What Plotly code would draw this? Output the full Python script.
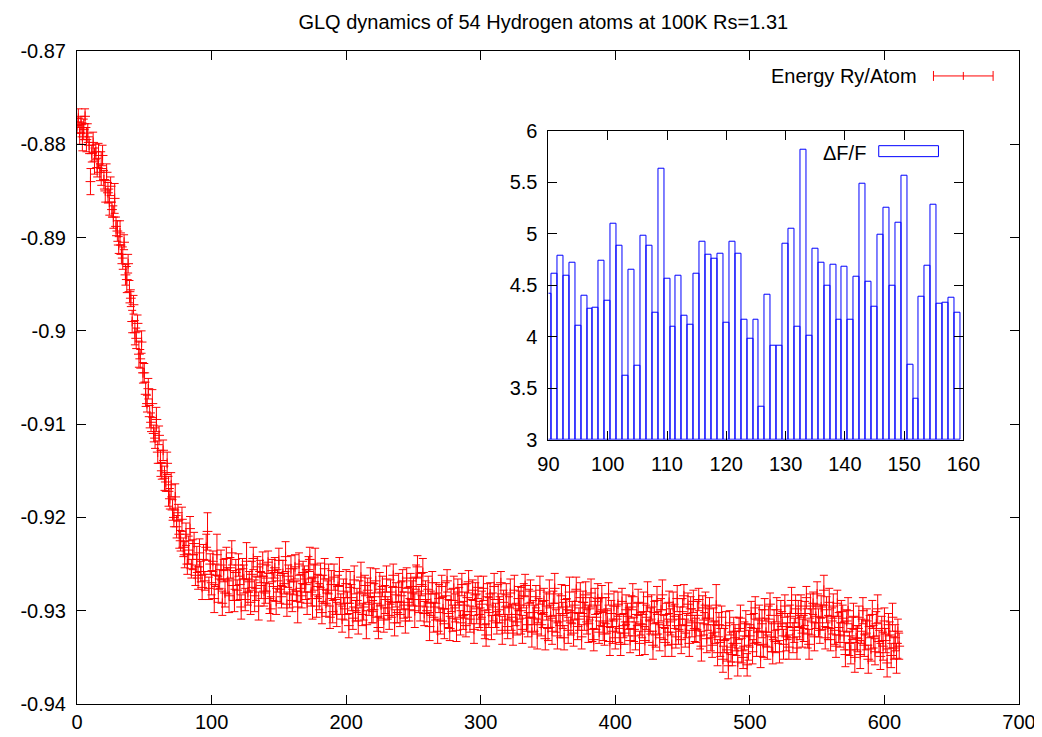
import plotly.graph_objects as go

title_text = "GLQ dynamics of 54 Hydrogen atoms at 100K Rs=1.31"
series_name = "Energy Ry/Atom"
inset_name = "\u0394F/F"

# Energy per atom, in units of 1e-4 Ry, one per MD step
energy_1e4 = [
    -8780, -8772, -8788, -8779, -8792, -8784, -8770, -8795, -8788, -8801,
    -8840, -8810, -8798, -8818, -8808, -8825, -8812, -8830, -8826, -8812,
    -8838, -8850, -8830, -8852, -8862, -8845, -8870, -8878, -8858, -8888,
    -8893, -8908, -8895, -8918, -8922, -8905, -8940, -8945, -8928, -8958,
    -8965, -8990, -8972, -9002, -9008, -8992, -9025, -9030, -9012, -9045,
    -9045, -9068, -9078, -9062, -9092, -9098, -9078, -9110, -9115, -9095,
    -9130, -9112, -9142, -9150, -9128, -9158, -9162, -9142, -9172, -9180,
    -9165, -9192, -9200, -9178, -9210, -9195, -9218, -9225, -9202, -9232,
    -9240, -9218, -9250, -9235, -9212, -9255, -9240, -9228, -9262, -9245,
    -9265, -9238, -9258, -9275, -9245, -9268, -9232, -9215, -9276, -9250,
    -9270, -9247, -9287, -9262, -9240, -9277, -9266, -9251, -9292, -9257,
    -9281, -9244, -9268, -9284, -9254, -9238, -9273, -9289, -9259, -9278,
    -9251, -9272, -9296, -9255, -9266, -9288, -9247, -9280, -9269, -9291,
    -9261, -9244, -9284, -9276, -9253, -9295, -9258, -9273, -9250, -9279,
    -9281, -9265, -9248, -9287, -9298, -9257, -9274, -9254, -9290, -9268,
    -9246, -9277, -9285, -9260, -9271, -9242, -9293, -9263, -9282, -9255,
    -9289, -9269, -9253, -9279, -9296, -9250, -9276, -9284, -9259, -9266,
    -9272, -9292, -9256, -9245, -9280, -9287, -9264, -9251, -9295, -9274,
    -9285, -9262, -9302, -9277, -9255, -9292, -9281, -9266, -9307, -9272,
    -9301, -9264, -9288, -9304, -9274, -9258, -9293, -9309, -9279, -9298,
    -9271, -9292, -9316, -9275, -9286, -9308, -9267, -9300, -9289, -9311,
    -9281, -9264, -9304, -9296, -9273, -9315, -9278, -9293, -9270, -9299,
    -9301, -9285, -9268, -9307, -9318, -9277, -9294, -9274, -9310, -9288,
    -9266, -9297, -9305, -9280, -9291, -9262, -9313, -9283, -9302, -9275,
    -9304, -9284, -9268, -9294, -9311, -9265, -9291, -9299, -9274, -9281,
    -9280, -9300, -9264, -9253, -9288, -9295, -9272, -9259, -9303, -9282,
    -9300, -9277, -9317, -9292, -9270, -9307, -9296, -9281, -9322, -9287,
    -9311, -9274, -9298, -9314, -9284, -9268, -9303, -9319, -9289, -9308,
    -9276, -9297, -9321, -9280, -9291, -9313, -9272, -9305, -9294, -9316,
    -9286, -9269, -9309, -9301, -9278, -9320, -9283, -9298, -9275, -9304,
    -9309, -9293, -9276, -9315, -9326, -9285, -9302, -9282, -9318, -9296,
    -9274, -9305, -9313, -9288, -9299, -9270, -9321, -9291, -9310, -9283,
    -9317, -9297, -9281, -9307, -9324, -9278, -9304, -9312, -9287, -9294,
    -9300, -9320, -9284, -9273, -9308, -9315, -9292, -9279, -9323, -9302,
    -9308, -9285, -9325, -9300, -9278, -9315, -9304, -9289, -9330, -9295,
    -9319, -9282, -9306, -9322, -9292, -9276, -9311, -9327, -9297, -9316,
    -9284, -9305, -9329, -9288, -9299, -9321, -9280, -9313, -9302, -9324,
    -9294, -9277, -9317, -9309, -9286, -9328, -9291, -9306, -9283, -9312,
    -9314, -9298, -9281, -9320, -9331, -9290, -9307, -9287, -9323, -9301,
    -9286, -9317, -9325, -9300, -9311, -9282, -9333, -9303, -9322, -9295,
    -9329, -9309, -9293, -9319, -9336, -9290, -9316, -9324, -9299, -9306,
    -9312, -9332, -9296, -9285, -9320, -9327, -9304, -9291, -9335, -9314,
    -9315, -9292, -9332, -9307, -9285, -9322, -9311, -9296, -9337, -9302,
    -9326, -9289, -9313, -9329, -9299, -9283, -9318, -9334, -9304, -9323,
    -9291, -9312, -9336, -9295, -9306, -9328, -9287, -9320, -9309, -9331,
    -9301, -9284, -9324, -9316, -9293, -9335, -9298, -9313, -9290, -9319,
    -9321, -9305, -9288, -9327, -9338, -9297, -9314, -9294, -9330, -9308,
    -9298, -9329, -9337, -9312, -9323, -9294, -9345, -9315, -9334, -9307,
    -9352, -9332, -9316, -9342, -9359, -9313, -9339, -9347, -9322, -9329,
    -9335, -9355, -9319, -9308, -9343, -9350, -9327, -9314, -9358, -9337,
    -9327, -9304, -9344, -9319, -9297, -9334, -9323, -9308, -9349, -9314,
    -9336, -9299, -9323, -9339, -9309, -9293, -9328, -9344, -9314, -9333,
    -9299, -9320, -9344, -9303, -9314, -9336, -9295, -9328, -9317, -9339,
    -9306, -9289, -9329, -9321, -9298, -9340, -9303, -9318, -9295, -9324,
    -9319, -9303, -9286, -9325, -9336, -9295, -9312, -9292, -9328, -9306,
    -9282, -9313, -9321, -9296, -9307, -9278, -9329, -9299, -9318, -9291,
    -9331, -9311, -9295, -9321, -9338, -9292, -9318, -9326, -9301, -9308,
    -9327, -9347, -9311, -9300, -9335, -9342, -9319, -9306, -9350, -9329,
    -9330, -9307, -9347, -9322, -9300, -9337, -9326, -9311, -9352, -9317,
    -9341, -9304, -9328, -9344, -9314, -9298, -9333, -9349, -9319, -9338,
    -9311, -9332, -9356, -9315, -9326, -9348, -9307, -9340, -9329, -9351, -9322, -9338,
]

# Error bar half-lengths, in units of 1e-4 Ry
error_1e4 = [
    8, 10, 12, 9, 15, 11, 8, 13, 10, 9,
    14, 9, 11, 14, 8, 10, 13, 9, 18, 11,
    10, 12, 9, 11, 14, 10, 8, 12, 16, 10,
    11, 9, 13, 10, 12, 8, 11, 14, 10, 12,
    9, 12, 10, 13, 11, 9, 14, 10, 12, 11,
    10, 13, 9, 11, 12, 10, 15, 9, 11, 13,
    12, 10, 14, 9, 11, 13, 10, 12, 16, 11,
    13, 11, 10, 14, 12, 9, 15, 11, 13, 10,
    14, 12, 11, 15, 13, 10, 16, 12, 11, 14,
    12, 15, 11, 13, 16, 10, 14, 20, 12, 11,
    13, 11, 15, 12, 22, 14, 10, 16, 13, 12,
    15, 12, 14, 18, 11, 13, 16, 12, 14, 11,
    12, 16, 13, 11, 15, 12, 20, 14, 11, 13,
    14, 12, 17, 13, 11, 15, 12, 14, 13, 16,
    11, 14, 12, 16, 13, 12, 15, 11, 14, 12,
    13, 15, 12, 14, 11, 16, 13, 12, 15, 14,
    12, 14, 13, 11, 17, 12, 15, 13, 12, 14,
    16, 12, 14, 13, 15, 22, 14, 18, 12, 13,
    14, 13, 12, 15, 11, 14, 13, 16, 12, 15,
    12, 14, 16, 13, 12, 15, 11, 14, 13, 12,
    15, 12, 13, 17, 14, 12, 15, 11, 13, 14,
    13, 16, 12, 14, 11, 15, 13, 12, 16, 14,
    12, 14, 13, 15, 12, 18, 14, 11, 13, 15,
    14, 12, 15, 13, 16, 12, 14, 13, 11, 15,
    13, 15, 12, 14, 13, 11, 16, 12, 14, 13,
    15, 18, 13, 12, 14, 16, 12, 15, 13, 14,
    12, 14, 15, 13, 12, 16, 14, 11, 13, 15,
    14, 12, 13, 16, 14, 12, 15, 13, 12, 14,
    13, 15, 12, 14, 16, 13, 12, 15, 14, 12,
    15, 12, 14, 13, 11, 15, 13, 16, 12, 14,
    12, 14, 13, 15, 12, 14, 16, 12, 13, 15,
    14, 13, 12, 16, 14, 12, 15, 13, 14, 12,
    13, 12, 15, 14, 13, 16, 12, 14, 13, 15,
    25, 15, 13, 12, 14, 13, 15, 12, 16, 13,
    14, 12, 16, 13, 15, 12, 14, 13, 12, 15,
    13, 15, 12, 14, 13, 16, 12, 14, 15, 13,
    12, 14, 13, 15, 12, 14, 16, 13, 12, 14,
    15, 13, 14, 12, 16, 13, 12, 15, 14, 13,
    20, 12, 15, 13, 12, 14, 13, 16, 12, 15,
    13, 15, 12, 14, 13, 12, 15, 14, 13, 16,
    12, 14, 13, 15, 12, 14, 13, 12, 16, 14,
    15, 13, 12, 14, 13, 15, 12, 14, 13, 12,
    14, 12, 15, 13, 16, 12, 14, 13, 15, 12,
    13, 15, 12, 14, 12, 16, 13, 15, 12, 14,
    12, 14, 13, 15, 13, 12, 14, 16, 13, 15,
    14, 12, 15, 13, 12, 14, 13, 15, 12, 14,
    13, 15, 12, 14, 16, 13, 12, 14, 15, 13,
    12, 14, 13, 15, 12, 22, 14, 13, 15, 12,
    14, 13, 15, 12, 14, 13, 16, 12, 15, 14,
    13, 15, 12, 14, 13, 12, 15, 14, 12, 16,
    12, 14, 13, 16, 12, 15, 13, 14, 12, 15,
    14, 12, 15, 13, 14, 12, 16, 13, 15, 12,
    13, 15, 12, 14, 13, 16, 12, 15, 14, 13,
    12, 14, 16, 13, 15, 12, 14, 13, 12, 15,
    14, 13, 12, 15, 16, 13, 14, 12, 15, 13,
    13, 15, 14, 12, 13, 16, 12, 14, 13, 15,
    12, 14, 13, 15, 12, 14, 16, 13, 12, 14,
    15, 13, 12, 14, 13, 15, 12, 14, 16, 13,
    14, 12, 15, 13, 14, 12, 16, 13, 15, 12,
    13, 15, 12, 14, 13, 15, 12, 14, 13, 15,
    14, 13, 15, 12, 14, 13, 15, 12, 14, 16, 13, 14,
]

md_step = list(range(len(energy_1e4)))
energy = [v * 1e-4 for v in energy_1e4]
error = [v * 1e-4 for v in error_1e4]

# Inset: relative fluctuation dF/F per step
inset_step = list(range(90, 160))
inset_dff = [
    4.42, 4.61, 4.79, 4.59, 4.72, 4.11, 4.40, 4.27, 4.28, 4.74,
    4.35, 5.10, 4.88, 3.62, 4.65, 3.72, 4.98, 4.88, 4.23, 5.63,
    4.56, 4.10, 4.59, 4.20, 4.12, 4.61, 4.92, 4.80, 4.76, 4.81,
    4.14, 4.92, 4.81, 4.17, 3.98, 4.17, 3.32, 4.41, 3.91, 3.91,
    4.90, 5.05, 4.10, 5.82, 4.01, 4.85, 4.72, 4.50, 4.70, 4.17,
    4.68, 4.17, 4.58, 5.49, 4.53, 4.29, 4.99, 5.25, 4.50, 5.11,
    5.56, 3.73, 3.40, 4.39, 4.69, 5.28, 4.32, 4.33, 4.38, 4.23,
]

main_xticks = [0, 100, 200, 300, 400, 500, 600, 700]
main_yticks = [-0.94, -0.93, -0.92, -0.91, -0.90, -0.89, -0.88, -0.87]
main_yticktext = ["-0.94", "-0.93", "-0.92", "-0.91", "-0.9", "-0.89", "-0.88", "-0.87"]
inset_xticks = [90, 100, 110, 120, 130, 140, 150, 160]
inset_yticks = [3, 3.5, 4, 4.5, 5, 5.5, 6]
inset_yticktext = ["3", "3.5", "4", "4.5", "5", "5.5", "6"]

FONT = "Liberation Sans, Arial, sans-serif"
FS = 20
RED = "rgb(255,0,0)"
BLUE = "rgb(0,0,255)"

fig = go.Figure()

fig.add_trace(go.Scatter(
    x=md_step, y=energy, mode="markers", name=series_name,
    marker=dict(symbol="cross-thin", size=7, line=dict(color=RED, width=1), color=RED),
    error_y=dict(type="data", array=error, visible=True, color=RED, thickness=1, width=4),
    showlegend=False, xaxis="x", yaxis="y",
))

fig.add_trace(go.Bar(
    x=inset_step, y=[v - 3 for v in inset_dff], base=3, width=1, name=inset_name,
    marker=dict(color="rgba(0,0,0,0)", line=dict(color=BLUE, width=1)),
    showlegend=False, xaxis="x2", yaxis="y2",
))

axis_common = dict(
    showline=True, linecolor="black", linewidth=1, mirror="ticks",
    ticks="inside", ticklen=9, tickwidth=1, tickcolor="black",
    showgrid=False, zeroline=False,
    tickfont=dict(family=FONT, size=FS, color="black"),
)

fig.update_layout(
    width=1042, height=737,
    margin=dict(l=61, r=31, t=43, b=39),
    paper_bgcolor="white", plot_bgcolor="white",
    font=dict(family=FONT, size=FS, color="black"),
    title=dict(text=title_text, x=0.495, xref="paper", y=0.981, yref="container",
               xanchor="center", yanchor="middle",
               font=dict(family=FONT, size=FS, color="black")),
    xaxis=dict(range=[0, 700], tickvals=main_xticks, domain=[0, 1], anchor="y", **axis_common),
    yaxis=dict(range=[-0.94, -0.87], tickvals=main_yticks, ticktext=main_yticktext,
               domain=[0, 1], anchor="x", ticklabelstandoff=6, **axis_common),
    xaxis2=dict(range=[90, 160], tickvals=inset_xticks, domain=[0.5005, 0.941], anchor="y2",
                ticklabelstandoff=6, **axis_common),
    yaxis2=dict(range=[3, 6], tickvals=inset_yticks, ticktext=inset_yticktext,
                domain=[0.4046, 0.8779], anchor="x2", ticklabelstandoff=6, **axis_common),
    bargap=0,
    showlegend=False,
)

# Key for main series (gnuplot style errorbar sample)
ly = 0.9618
fig.add_shape(type="line", xref="paper", yref="paper", x0=0.9092, x1=0.9725, y0=ly, y1=ly,
              line=dict(color=RED, width=1))
for xx in (0.9092, 0.9725):
    fig.add_shape(type="line", xref="paper", yref="paper", x0=xx, x1=xx, y0=ly - 0.0076, y1=ly + 0.0076,
                  line=dict(color=RED, width=1))
fig.add_shape(type="line", xref="paper", yref="paper", x0=0.9409, x1=0.9409, y0=ly - 0.0061, y1=ly + 0.0061,
              line=dict(color=RED, width=1))
fig.add_annotation(text=series_name, xref="paper", yref="paper", x=0.8934, y=ly,
                   xanchor="right", yanchor="middle", showarrow=False,
                   font=dict(family=FONT, size=FS, color="black"))

# Key for inset
fig.add_shape(type="rect", xref="paper", yref="paper", x0=0.8511, x1=0.9145, y0=0.8382, y1=0.855,
              line=dict(color=BLUE, width=1), fillcolor="rgba(0,0,0,0)")
fig.add_annotation(text=inset_name, xref="paper", yref="paper", x=0.8395, y=0.8443,
                   xanchor="right", yanchor="middle", showarrow=False,
                   font=dict(family=FONT, size=FS, color="black"))

fig.write_html("out.html")
